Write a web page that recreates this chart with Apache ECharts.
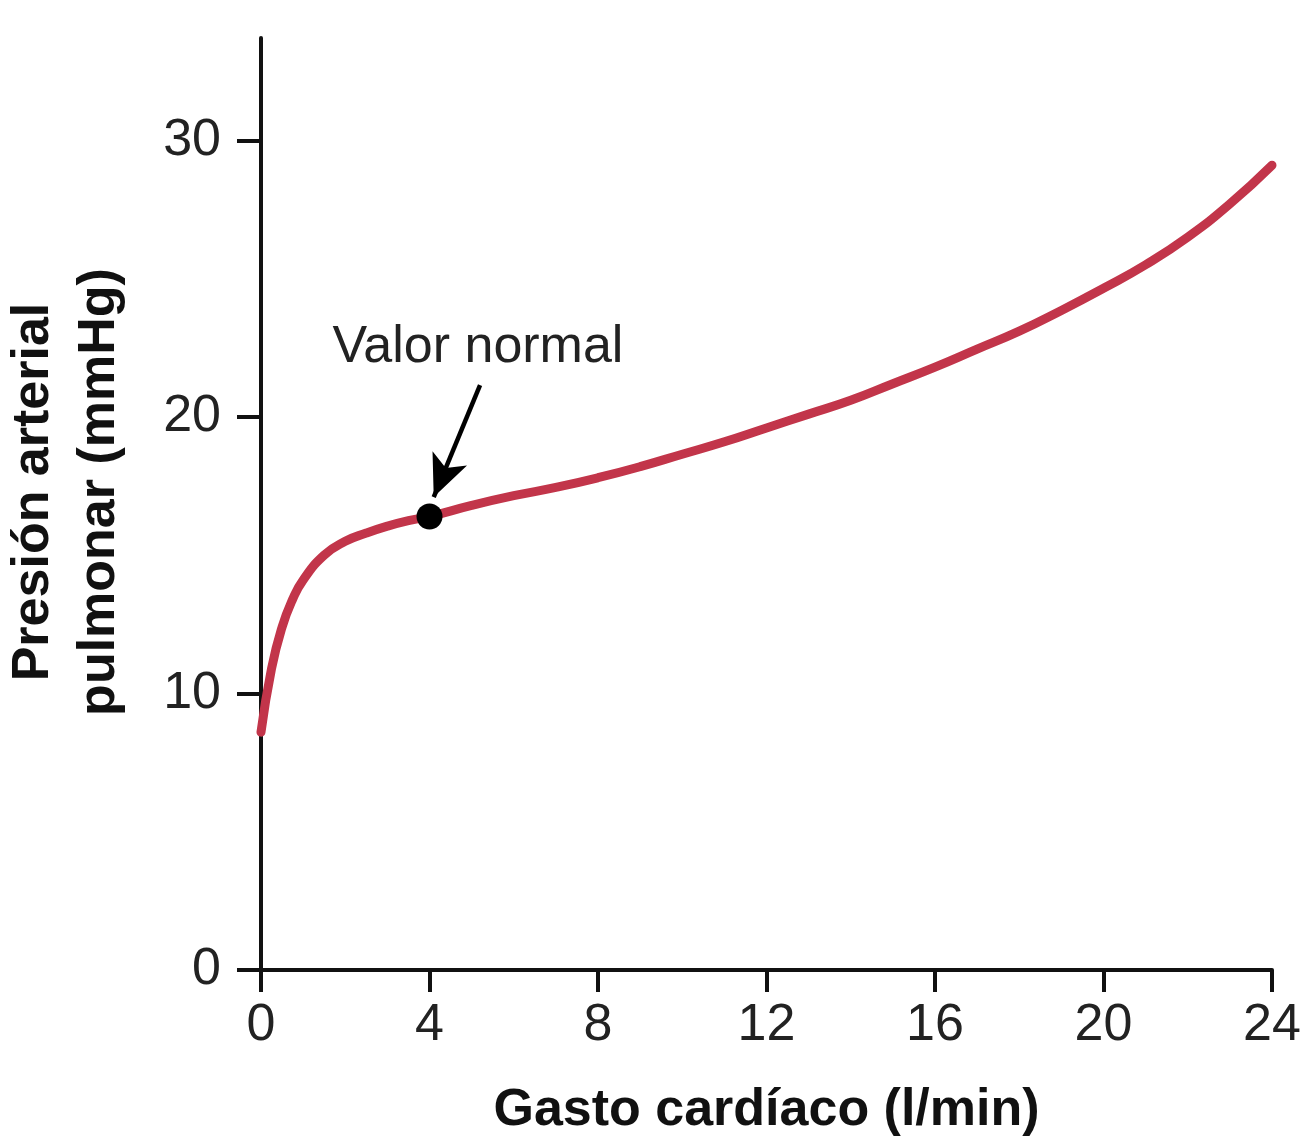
<!DOCTYPE html>
<html>
<head>
<meta charset="utf-8">
<script src="https://cdn.jsdelivr.net/npm/echarts@6/dist/echarts.min.js"></script>
<style>
html,body{margin:0;padding:0;background:#fff;}
#chart{width:1312px;height:1144px;}
</style>
</head>
<body>
<div id="chart"></div>
<script>
// Data
const cardiacOutput = [0, 0.25, 0.5, 0.75, 1, 1.5, 2, 2.5, 3, 3.5, 4, 5, 6, 7, 8, 9, 10, 11, 12, 13, 14, 15, 16, 17, 18, 19, 20, 21, 22, 23, 24];
const pulmonaryPressure = [8.6, 10.9, 12.4, 13.4, 14.1, 15.0, 15.5, 15.8, 16.05, 16.25, 16.4, 16.8, 17.15, 17.45, 17.8, 18.2, 18.65, 19.1, 19.6, 20.1, 20.6, 21.2, 21.8, 22.45, 23.1, 23.85, 24.65, 25.5, 26.5, 27.7, 29.1];
const xTicks = [0, 4, 8, 12, 16, 20, 24];
const yTicks = [0, 10, 20, 30];
const normalPoint = [4, 16.4];
const normalLabel = 'Valor normal';
const labelPos = [5.15, 22.5];
const arrowFrom = [5.2, 21.15];
const arrowTo = [4.1, 17.1];
const xName = 'Gasto cardíaco (l/min)';
const yName = 'Presión arterial\npulmonar (mmHg)';

const lineData = cardiacOutput.map((x, i) => [x, pulmonaryPressure[i]]);
const FONT = '"Liberation Sans", Arial, Helvetica, sans-serif';

const chart = echarts.init(document.getElementById('chart'), null, {renderer: 'canvas'});
chart.setOption({
  animation: false,
  backgroundColor: '#ffffff',
  grid: {left: 261, right: 40, top: 38, bottom: 174, containLabel: false, outerBoundsMode: 'none'},
  xAxis: {
    type: 'value', min: 0, max: 24, interval: 4,
    name: xName, nameLocation: 'middle', nameGap: 115,
    nameTextStyle: {fontFamily: FONT, fontWeight: 'bold', fontSize: 52, color: '#111'},
    axisLine: {show: true, lineStyle: {color: '#111', width: 4}},
    axisTick: {show: true, length: 22, lineStyle: {color: '#111', width: 4}, customValues: xTicks},
    axisLabel: {fontFamily: FONT, fontSize: 52, color: '#222', margin: 30, customValues: xTicks},
    splitLine: {show: false}
  },
  yAxis: {
    type: 'value', min: 0, max: 33.7, interval: 10,
    name: yName, nameLocation: 'middle', nameGap: 128, nameRotate: 90,
    nameTextStyle: {fontFamily: FONT, fontWeight: 'bold', fontSize: 52, lineHeight: 66, color: '#111', align: 'center', padding: [0, 0, 0, 24]},
    axisLine: {show: true, lineStyle: {color: '#111', width: 4}},
    axisTick: {show: true, length: 24, lineStyle: {color: '#111', width: 4}, customValues: yTicks},
    axisLabel: {fontFamily: FONT, fontSize: 52, color: '#222', margin: 40, customValues: yTicks},
    splitLine: {show: false}
  },
  series: [
    {
      type: 'line', data: lineData, smooth: 0.5, showSymbol: false,
      lineStyle: {color: '#c2354a', width: 9, cap: 'round'},
      z: 2,
      markLine: {
        silent: true, symbol: ['none', 'arrow'], symbolSize: [28, 42],
        lineStyle: {color: '#000', width: 4.5, type: 'solid'},
        label: {show: false},
        data: [[{coord: arrowFrom}, {coord: arrowTo}]]
      },
      markPoint: {
        silent: true,
        data: [{coord: labelPos, symbol: 'circle', symbolSize: 1, itemStyle: {color: 'transparent'},
          label: {show: true, position: 'inside', formatter: normalLabel, fontFamily: FONT, fontSize: 52, color: '#222'}}]
      }
    },
    {
      type: 'scatter', data: [normalPoint], symbol: 'circle', symbolSize: 26,
      itemStyle: {color: '#000', opacity: 1}, z: 5
    }
  ]
});
</script>
</body>
</html>
